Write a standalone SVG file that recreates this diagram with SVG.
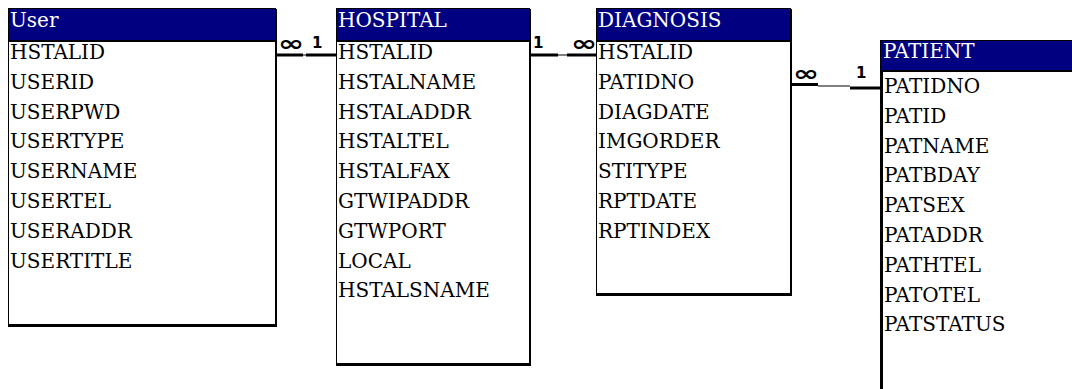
<svg xmlns="http://www.w3.org/2000/svg" width="1072" height="389" viewBox="0 0 1072 389">
<style>
.box{fill:#ffffff;stroke:#000000;stroke-width:1}
.hdr{fill:#000080}
.bar{fill:#000000}
.shadow{fill:none;stroke:#000000}
.title{fill:#ffffff;font-family:"DejaVu Serif","Liberation Serif",serif;font-size:20px}
.fld{fill:#000000;font-family:"DejaVu Serif","Liberation Serif",serif;font-size:20px}
.thick{fill:none;stroke:#000000;stroke-width:3}
.thin{fill:none;stroke:#000000;stroke-width:1}
.card{fill:#000000;font-family:"DejaVu Sans","Liberation Sans",sans-serif;font-weight:bold;font-size:15px}
.inf{fill:#000000;font-family:"DejaVu Sans","Liberation Sans",sans-serif;font-weight:bold;font-size:22px}
</style>
<rect width="1072" height="389" fill="#ffffff"/>

<g id="user">
<rect class="box" x="8.5" y="8.5" width="267" height="317"/>
<rect class="hdr" x="9" y="9" width="266" height="31"/>
<rect class="bar" x="9" y="40" width="267" height="2"/>
<path class="shadow" d="M276 9V327" stroke-width="2"/>
<path class="shadow" d="M8 325.5H277" stroke-width="3"/>
<text class="title" x="10" y="27">User</text>
<text class="fld" x="10" y="59">HSTALID</text>
<text class="fld" x="10" y="88.8">USERID</text>
<text class="fld" x="10" y="118.6">USERPWD</text>
<text class="fld" x="10" y="148.4">USERTYPE</text>
<text class="fld" x="10" y="178.2">USERNAME</text>
<text class="fld" x="10" y="208">USERTEL</text>
<text class="fld" x="10" y="237.8">USERADDR</text>
<text class="fld" x="10" y="267.6">USERTITLE</text>
</g>

<g id="hospital">
<rect class="box" x="336.5" y="8.5" width="193" height="356"/>
<rect class="hdr" x="337" y="9" width="192" height="31"/>
<rect class="bar" x="337" y="40" width="193" height="2"/>
<path class="shadow" d="M530 9V366" stroke-width="2"/>
<path class="shadow" d="M336 364.5H531" stroke-width="3"/>
<text class="title" x="338" y="27">HOSPITAL</text>
<text class="fld" x="338" y="59">HSTALID</text>
<text class="fld" x="338" y="88.8">HSTALNAME</text>
<text class="fld" x="338" y="118.6">HSTALADDR</text>
<text class="fld" x="338" y="148.4">HSTALTEL</text>
<text class="fld" x="338" y="178.2">HSTALFAX</text>
<text class="fld" x="338" y="208">GTWIPADDR</text>
<text class="fld" x="338" y="237.8">GTWPORT</text>
<text class="fld" x="338" y="267.6">LOCAL</text>
<text class="fld" x="338" y="297.4">HSTALSNAME</text>
</g>

<g id="diagnosis">
<rect class="box" x="596.5" y="8.5" width="194" height="286"/>
<rect class="hdr" x="597" y="9" width="193" height="31"/>
<rect class="bar" x="597" y="40" width="194" height="2"/>
<path class="shadow" d="M791 9V296" stroke-width="2"/>
<path class="shadow" d="M596 294.5H792" stroke-width="3"/>
<text class="title" x="598" y="27">DIAGNOSIS</text>
<text class="fld" x="598" y="59">HSTALID</text>
<text class="fld" x="598" y="88.8">PATIDNO</text>
<text class="fld" x="598" y="118.6">DIAGDATE</text>
<text class="fld" x="598" y="148.4">IMGORDER</text>
<text class="fld" x="598" y="178.2">STITYPE</text>
<text class="fld" x="598" y="208">RPTDATE</text>
<text class="fld" x="598" y="237.8">RPTINDEX</text>
</g>

<g id="patient">
<rect class="box" x="880.5" y="40.5" width="200" height="360"/>
<rect class="hdr" x="881" y="41" width="199" height="29"/>
<rect class="bar" x="880" y="70" width="200" height="2"/>
<path class="shadow" d="M881.5 70V389" stroke-width="3"/>
<text class="title" x="883" y="58">PATIENT</text>
<text class="fld" x="884" y="93">PATIDNO</text>
<text class="fld" x="884" y="122.8">PATID</text>
<text class="fld" x="884" y="152.6">PATNAME</text>
<text class="fld" x="884" y="182.4">PATBDAY</text>
<text class="fld" x="884" y="212.2">PATSEX</text>
<text class="fld" x="884" y="242">PATADDR</text>
<text class="fld" x="884" y="271.8">PATHTEL</text>
<text class="fld" x="884" y="301.6">PATOTEL</text>
<text class="fld" x="884" y="331.4">PATSTATUS</text>
</g>

<g id="connectors">
<path class="thick" d="M276 55H303"/>
<path class="thin" d="M303 55H306"/>
<path class="thick" d="M306 55H337"/>
<text class="inf" x="278" y="51" textLength="26" lengthAdjust="spacingAndGlyphs">∞</text>
<text class="card" x="312" y="48">1</text>

<path class="thick" d="M530 55H558"/>
<path class="thin" d="M558 55H567"/>
<path class="thick" d="M567 55H597"/>
<text class="card" x="533" y="48">1</text>
<text class="inf" x="571" y="51" textLength="26" lengthAdjust="spacingAndGlyphs">∞</text>

<path class="thick" d="M791 84.5H818"/>
<path class="thin" d="M818 86H850"/>
<path class="thick" d="M850 88H881"/>
<text class="inf" x="793" y="81" textLength="26" lengthAdjust="spacingAndGlyphs">∞</text>
<text class="card" x="856" y="78">1</text>
</g>
</svg>
